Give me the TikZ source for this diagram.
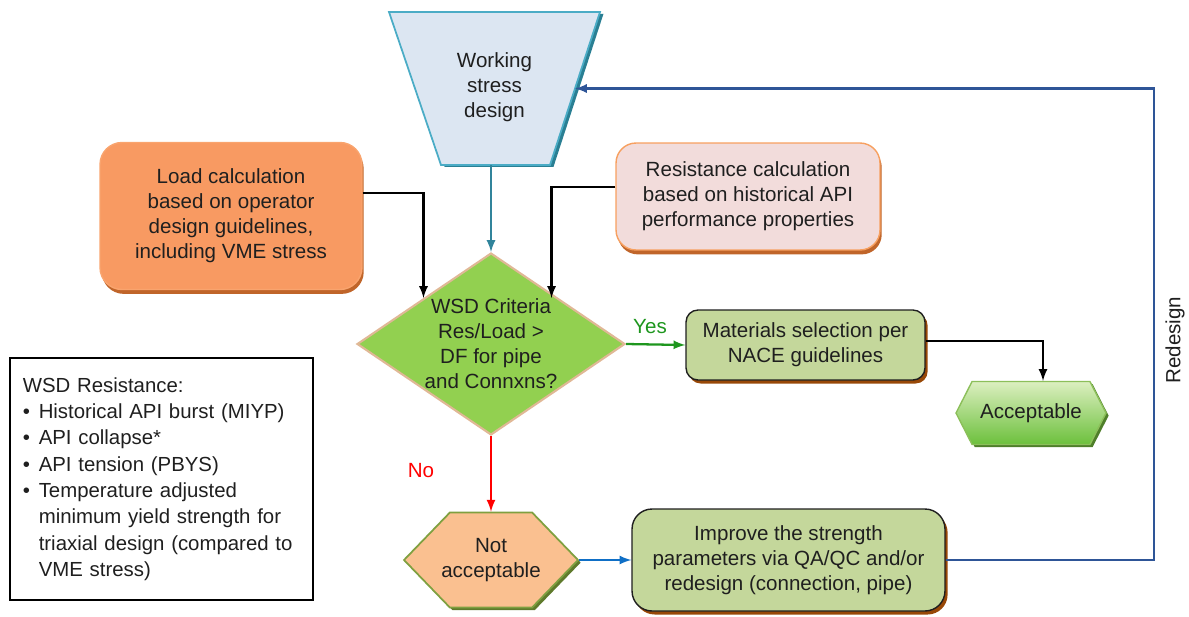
\documentclass[tikz,border=0pt]{standalone}
\usepackage{fontspec}
\setmainfont{Liberation Sans}
\usetikzlibrary{arrows}
\usetikzlibrary{shapes}
\usetikzlibrary{shadows}
\definecolor{wsdfill}{HTML}{DCE6F2}
\definecolor{wsdline}{HTML}{4BACC6}
\definecolor{wsdshade}{HTML}{2A7F93}
\definecolor{loadfill}{HTML}{F89A62}
\definecolor{loadline}{HTML}{F9A46E}
\definecolor{resfill}{HTML}{F2DCDB}
\definecolor{resline}{HTML}{F7A060}
\definecolor{orshade}{HTML}{C0652A}
\definecolor{critfill}{HTML}{92D050}
\definecolor{critline}{HTML}{E0B896}
\definecolor{matfill}{HTML}{C4D79B}
\definecolor{brshade}{HTML}{984807}
\definecolor{acctop}{HTML}{DCEFC0}
\definecolor{accbot}{HTML}{6CC03C}
\definecolor{accline}{HTML}{8CBF5A}
\definecolor{accshade}{HTML}{4F7F2A}
\definecolor{notfill}{HTML}{FAC090}
\definecolor{notline}{HTML}{7FA040}
\definecolor{notshade}{HTML}{5F7A2C}
\definecolor{tealarrow}{HTML}{31849B}
\definecolor{yesgreen}{HTML}{1E961E}
\definecolor{bluearrow}{HTML}{0F6FC6}
\definecolor{redesignblue}{HTML}{2E5597}
\definecolor{txt}{HTML}{1F1F1F}

\begin{document}
\begin{tikzpicture}[x = 0.02cm, y = -0.02cm]
\tikzstyle{TextStyle}=[text = txt, align = center,
                         font = \fontsize{11.7}{14.2}\selectfont]
\tikzstyle{BoxStyle}=[TextStyle, shape = rectangle, inner sep = 0pt,
                         line width = 0.8pt]
\tikzstyle{ArrowStyle}=[-latex, line width = 1.3pt]
\useasboundingbox (0,0) rectangle (1189,616);
\draw[fill = wsdfill, draw = wsdline, line width = 1pt,
      drop shadow = {shadow xshift = 2pt, shadow yshift = -1pt, fill = wsdshade, opacity = 1}]
      (389, 12) -- (600, 12) -- (550, 165) -- (441, 165) -- cycle;
\node[TextStyle] (wsd) at (494.5, 87) {Working\\stress\\design};
\coordinate (wsdbottom) at (491, 165);
\coordinate (wsdright) at (575, 88.5);
\node[BoxStyle, rounded corners = 0.44cm, minimum width = 5.24cm, minimum height = 2.94cm,
      fill = loadfill, draw = loadline,
      drop shadow = {shadow xshift = 1pt, shadow yshift = -2.5pt, fill = orshade, opacity = 1}]
      (load) at (231, 216) {Load calculation\\based on operator\\design guidelines,\\including VME stress};
\node[BoxStyle, rounded corners = 0.4cm, minimum width = 5.28cm, minimum height = 2.14cm,
      fill = resfill, draw = resline,
      drop shadow = {shadow xshift = 1pt, shadow yshift = -2.5pt, fill = orshade, opacity = 1}]
      (res) at (748, 196.5) {Resistance calculation\\based on historical API\\performance properties};
\node[TextStyle, shape = diamond, minimum width = 5.36cm, minimum height = 3.64cm,
      inner sep = -0.4cm, fill = critfill, draw = critline, line width = 1.2pt]
      (crit) at (491, 344) {WSD Criteria\\Res/Load >\\DF for pipe\\and Connxns?};
\node[BoxStyle, rounded corners = 0.24cm, minimum width = 4.78cm, minimum height = 1.4cm,
      fill = matfill, draw = txt,
      drop shadow = {shadow xshift = 1.5pt, shadow yshift = -2pt, fill = brshade, opacity = 1}]
      (mat) at (805.5, 345) {Materials selection per\\NACE guidelines};
\node[TextStyle, shape = signal, signal to = east and west, signal pointer angle = 126,
      minimum width = 3.0cm, minimum height = 1.26cm, inner sep = 0pt,
      top color = acctop, bottom color = accbot, draw = accline, line width = 0.8pt,
      drop shadow = {shadow xshift = 1.5pt, shadow yshift = -1.5pt, fill = accshade, opacity = 1}]
      (acc) at (1031, 413) {Acceptable};
\node[TextStyle, shape = signal, signal to = east and west, signal pointer angle = 92,
      minimum width = 3.48cm, minimum height = 1.9cm, inner ysep = 0pt, inner xsep = -0.18cm,
      fill = notfill, draw = notline, line width = 1pt,
      drop shadow = {shadow xshift = 1.5pt, shadow yshift = -1.5pt, fill = notshade, opacity = 1}]
      (notacc) at (491, 560) {Not\\acceptable};
\node[BoxStyle, rounded corners = 0.4cm, minimum width = 6.26cm, minimum height = 2.04cm,
      fill = matfill, draw = txt,
      drop shadow = {shadow xshift = 1.5pt, shadow yshift = -2pt, fill = brshade, opacity = 1}]
      (impr) at (788.5, 560) {Improve the strength\\parameters via QA/QC and/or\\redesign (connection, pipe)};
\node[TextStyle, draw = black, line width = 1.5pt, align = left,
      minimum width = 6.06cm, minimum height = 4.84cm, text width = 5.55cm,
      inner xsep = 0.24cm, font = \fontsize{11.6}{15}\selectfont]
      (legend) at (161.5, 479) {WSD Resistance:\\
      \makebox[0.32cm][l]{\textbullet}Historical API burst (MIYP)\\
      \makebox[0.32cm][l]{\textbullet}API collapse*\\
      \makebox[0.32cm][l]{\textbullet}API tension (PBYS)\\
      \makebox[0.32cm][l]{\textbullet}Temperature adjusted\\
      \hspace*{0.32cm}minimum yield strength for\\
      \hspace*{0.32cm}triaxial design (compared to\\
      \hspace*{0.32cm}VME stress)};
\node[TextStyle, text = yesgreen] (yes) at (650, 327) {Yes};
\node[TextStyle, text = red] (no) at (421, 471) {No};
\node[TextStyle, rotate = 90] (redesign) at (1175, 340) {Redesign};
\draw[ArrowStyle, tealarrow] (wsdbottom) -- (crit.north);
\draw[ArrowStyle, black] ([yshift = 0.46cm]load.east) -| (crit.north west);
\draw[ArrowStyle, black] ([yshift = 0.19cm]res.west) -| ([xshift = -0.14cm]crit.north east);
\draw[ArrowStyle, yesgreen] (crit.east) -- (mat.west);
\draw[ArrowStyle, black] ([yshift = 0.08cm]mat.east) -| ([xshift = 0.24cm]acc.north);
\draw[ArrowStyle, red] (crit.south) -- (notacc.north);
\draw[ArrowStyle, bluearrow] (notacc.east) -- (impr.west);
\draw[ArrowStyle, redesignblue] (impr.east) -- ++(208, 0) |- (wsdright);
\end{tikzpicture}
\end{document}
